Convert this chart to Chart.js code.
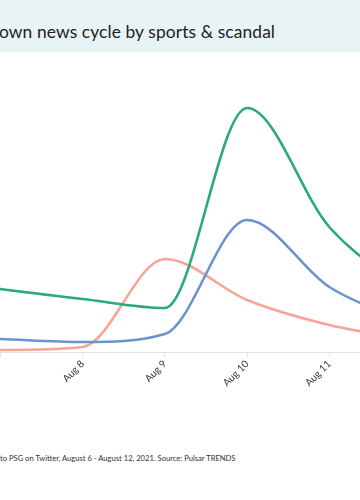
<!DOCTYPE html>
<html>
<head>
<meta charset="utf-8">
<script src="https://cdn.jsdelivr.net/npm/chart.js@4"></script>
<style>
  html, body { margin: 0; padding: 0; background: #fff; }
  body { width: 360px; height: 500px; position: relative; overflow: hidden; font-family: Lato, sans-serif; }
  .titlebar { position: absolute; left: 0; top: 0; width: 360px; height: 52px; background: #e7f3f5; }
  .titlebar h1 { position: absolute; left: -1px; top: 21px; margin: 0; font-size: 17.4px; font-weight: 400; color: #222; white-space: nowrap; letter-spacing: 0.1px; }
  .wrap { position: absolute; left: -101px; top: 52px; width: 522px; height: 388px; }
  .note { position: absolute; left: 0; top: 453px; font-size: 7.6px; color: #333; white-space: nowrap; }
</style>
</head>
<body>
<div class="titlebar"><h1>own news cycle by sports &amp; scandal</h1></div>
<div class="wrap"><canvas id="chart-psg"></canvas></div>
<div class="note">to PSG on Twitter, August 6 - August 12, 2021. Source: Pulsar TRENDS</div>
<script>
const dias = ['Aug 6', 'Aug 7', 'Aug 8', 'Aug 9', 'Aug 10', 'Aug 11', 'Aug 12'];
const deportes = [75, 63, 53, 44, 244, 125, 58];
const escandalo = [16, 13, 10, 18, 132, 65, 28];
const fichaje = [1, 2, 5, 93, 52, 27, 12];

let chartPsg = null;

function serie(label, data, color) {
  return {
    label: label,
    data: data,
    borderColor: color,
    borderWidth: 2.6,
    pointRadius: 0,
    fill: false,
    cubicInterpolationMode: 'monotone'
  };
}

document.addEventListener('DOMContentLoaded', () => {
  const ctx = document.getElementById('chart-psg').getContext('2d');
  if (chartPsg) chartPsg.destroy();

  chartPsg = new Chart(ctx, {
    type: 'line',
    data: {
      labels: dias,
      datasets: [
        serie('Deportes', deportes, '#2aaa7b'),
        serie('Escándalo', escandalo, '#6b93d1'),
        serie('Fichaje', fichaje, '#f6a596')
      ]
    },
    options: {
      responsive: true,
      maintainAspectRatio: false,
      animation: false,
      layout: { padding: { top: 8, left: 0, right: 0, bottom: 0 } },
      scales: {
        x: {
          offset: false,
          grid: { drawOnChartArea: false, drawTicks: true, tickLength: 5, color: '#e3e3e3' },
          border: { display: true, color: '#e3e3e3' },
          ticks: {
            color: '#333',
            font: { family: 'Lato', size: 10 },
            minRotation: 45,
            maxRotation: 45,
            padding: 1
          },
          afterFit: (s) => { s.height = 88; }
        },
        y: {
          display: false,
          min: 0,
          max: 292
        }
      },
      plugins: {
        legend: { display: false },
        tooltip: { enabled: false }
      }
    }
  });
});
</script>
</body>
</html>
